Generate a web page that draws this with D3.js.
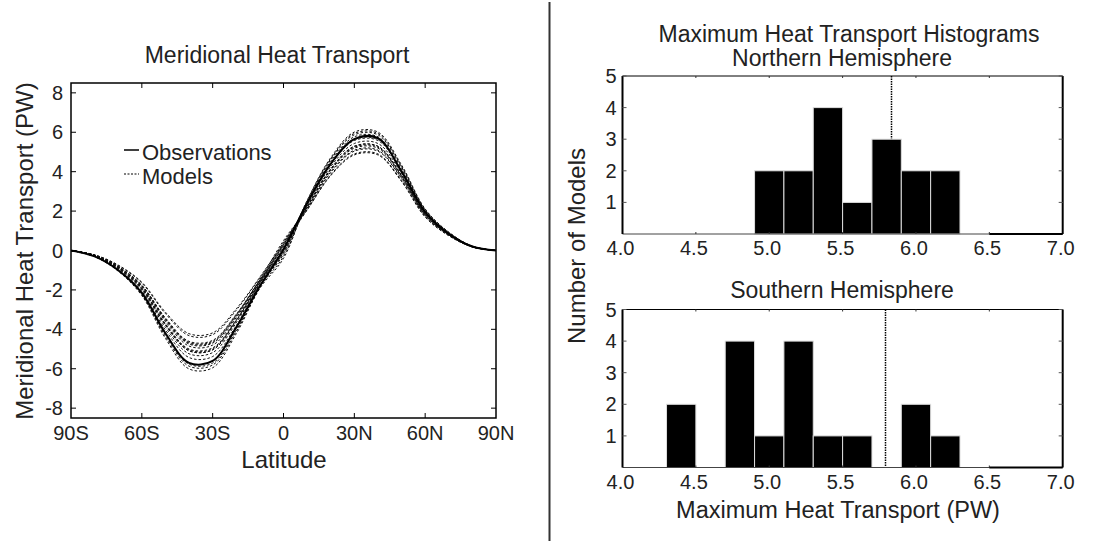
<!DOCTYPE html>
<html>
<head>
<meta charset="utf-8">
<script src="https://cdn.jsdelivr.net/npm/d3@7"></script>
<style>
  body { margin: 0; background: #fff; }
  svg { display: block; font-family: "Liberation Sans", Arial, sans-serif; }
  text { fill: #222; }
</style>
</head>
<body>
<svg id="chart" width="1108" height="541"></svg>
<script>
// latitude grid for the transport curves
const lats = [-90, -80, -70, -60, -50, -40, -30, -20, -10, 0, 10, 20, 30, 40, 50, 60, 70, 80, 90];

const observations = [0, -0.3, -1.0, -2.15, -4.2, -5.7, -5.6, -3.9, -1.8, 0.05, 2.4, 4.4, 5.65, 5.7, 4.0, 1.95, 0.85, 0.2, 0];

const models = [
  [0, -0.22, -0.74, -1.61, -3.13, -4.22, -4.18, -2.96, -1.35, 0.4, 2.23, 4.14, 5.29, 5.29, 3.82, 1.85, 0.82, 0.19, 0],
  [0, -0.22, -0.76, -1.65, -3.2, -4.32, -4.27, -3.03, -1.38, 0.3, 2.05, 3.8, 4.85, 4.85, 3.5, 1.7, 0.75, 0.18, 0],
  [0, -0.24, -0.81, -1.76, -3.42, -4.61, -4.56, -3.23, -1.47, 0.5, 2.13, 3.95, 5.04, 5.04, 3.64, 1.77, 0.78, 0.18, 0],
  [0, -0.24, -0.82, -1.78, -3.46, -4.66, -4.61, -3.26, -1.49, 0.2, 2.4, 4.45, 5.67, 5.67, 4.1, 1.99, 0.88, 0.2, 0],
  [0, -0.24, -0.82, -1.79, -3.49, -4.7, -4.66, -3.3, -1.5, 0.3, 2.19, 4.07, 5.19, 5.19, 3.75, 1.82, 0.8, 0.19, 0],
  [0, -0.25, -0.83, -1.81, -3.53, -4.75, -4.7, -3.33, -1.52, 0.1, 2.48, 4.6, 5.87, 5.87, 4.24, 2.06, 0.91, 0.21, 0],
  [0, -0.25, -0.85, -1.85, -3.6, -4.85, -4.8, -3.4, -1.55, 0.2, 2.21, 4.1, 5.24, 5.24, 3.78, 1.84, 0.81, 0.19, 0],
  [0, -0.26, -0.88, -1.91, -3.71, -5.0, -4.94, -3.5, -1.6, 0.0, 2.36, 4.37, 5.58, 5.58, 4.03, 1.96, 0.86, 0.2, 0],
  [0, -0.26, -0.88, -1.92, -3.74, -5.04, -4.99, -3.54, -1.61, 0.4, 2.07, 3.84, 4.9, 4.9, 3.54, 1.72, 0.76, 0.18, 0],
  [0, -0.26, -0.89, -1.94, -3.78, -5.09, -5.04, -3.57, -1.63, -0.1, 2.54, 4.71, 6.01, 6.01, 4.34, 2.11, 0.93, 0.22, 0],
  [0, -0.26, -0.89, -1.94, -3.78, -5.09, -5.04, -3.57, -1.63, 0.1, 2.3, 4.26, 5.43, 5.43, 3.92, 1.9, 0.84, 0.2, 0],
  [0, -0.27, -0.92, -2.0, -3.89, -5.24, -5.18, -3.67, -1.67, 0.3, 2.15, 3.99, 5.09, 5.09, 3.68, 1.79, 0.79, 0.18, 0],
  [0, -0.28, -0.95, -2.07, -4.03, -5.43, -5.38, -3.81, -1.74, -0.2, 2.44, 4.52, 5.77, 5.77, 4.17, 2.02, 0.89, 0.21, 0],
  [0, -0.3, -1.01, -2.2, -4.28, -5.77, -5.71, -4.05, -1.84, -0.3, 2.38, 4.41, 5.63, 5.63, 4.06, 1.97, 0.87, 0.2, 0],
  [0, -0.3, -1.03, -2.24, -4.36, -5.87, -5.81, -4.11, -1.88, -0.1, 2.23, 4.14, 5.29, 5.29, 3.82, 1.85, 0.82, 0.19, 0],
  [0, -0.31, -1.05, -2.29, -4.46, -6.01, -5.95, -4.22, -1.92, -0.4, 2.51, 4.65, 5.94, 5.94, 4.28, 2.08, 0.92, 0.21, 0]
];

const latTicks = [-90, -60, -30, 0, 30, 60, 90];
const latTickLabels = ["90S", "60S", "30S", "0", "30N", "60N", "90N"];
const transportTicks = [-8, -6, -4, -2, 0, 2, 4, 6, 8];

// histograms of maximum heat transport
const binWidth = 0.2;
const nhBins = [4.9, 5.1, 5.3, 5.5, 5.7, 5.9, 6.1];
const nhCounts = [2, 2, 4, 1, 3, 2, 2];
const shBins = [4.3, 4.5, 4.7, 4.9, 5.1, 5.3, 5.5, 5.7, 5.9, 6.1];
const shCounts = [2, 0, 4, 1, 4, 1, 1, 0, 2, 1];
const nhObserved = 5.83;
const shObserved = 5.79;
const histXTicks = [4.0, 4.5, 5.0, 5.5, 6.0, 6.5, 7.0];
const histYTicks = [1, 2, 3, 4, 5];

const svg = d3.select("#chart");

// ---------- left panel ----------
const L = { left: 71, right: 496, top: 83, bottom: 418 };

const x = d3.scaleLinear().domain([-90, 90]).range([L.left, L.right]);
const y = d3.scaleLinear().domain([-8.5, 8.5]).range([L.bottom, L.top]);

const left = svg.append("g");

const line = d3.line()
  .x((d, i) => x(lats[i]))
  .y(d => y(d))
  .curve(d3.curveCatmullRom.alpha(0.5));

svg.append("clipPath").attr("id", "lclip")
  .append("rect")
  .attr("x", L.left).attr("y", L.top)
  .attr("width", L.right - L.left).attr("height", L.bottom - L.top);

const curves = left.append("g").attr("clip-path", "url(#lclip)");

curves.selectAll("path.model")
  .data(models)
  .enter().append("path")
  .attr("class", "model")
  .attr("d", line)
  .attr("fill", "none")
  .attr("stroke", "#111")
  .attr("stroke-width", 1)
  .attr("stroke-dasharray", "2.5,2");

curves.append("path")
  .datum(observations)
  .attr("d", line)
  .attr("fill", "none")
  .attr("stroke", "#000")
  .attr("stroke-width", 2);

// frame
left.append("rect")
  .attr("x", L.left).attr("y", L.top)
  .attr("width", L.right - L.left).attr("height", L.bottom - L.top)
  .attr("fill", "none").attr("stroke", "#000").attr("stroke-width", 1.5);

const tickLen = 5;
latTicks.forEach((t, i) => {
  if (i > 0 && i < latTicks.length - 1) {
    left.append("line").attr("x1", x(t)).attr("x2", x(t))
      .attr("y1", L.bottom).attr("y2", L.bottom - tickLen).attr("stroke", "#000");
    left.append("line").attr("x1", x(t)).attr("x2", x(t))
      .attr("y1", L.top).attr("y2", L.top + tickLen).attr("stroke", "#000");
  }
  left.append("text")
    .attr("x", x(t)).attr("y", L.bottom + 22)
    .attr("text-anchor", "middle")
    .attr("font-size", "20px")
    .text(latTickLabels[i]);
});

transportTicks.forEach(t => {
  left.append("line").attr("x1", L.left).attr("x2", L.left + tickLen)
    .attr("y1", y(t)).attr("y2", y(t)).attr("stroke", "#000");
  left.append("line").attr("x1", L.right).attr("x2", L.right - tickLen)
    .attr("y1", y(t)).attr("y2", y(t)).attr("stroke", "#000");
  left.append("text")
    .attr("x", L.left - 8).attr("y", y(t) + 7)
    .attr("text-anchor", "end")
    .attr("font-size", "20px")
    .text(t);
});

left.append("text")
  .attr("x", 277).attr("y", 63)
  .attr("text-anchor", "middle").attr("font-size", "23px")
  .text("Meridional Heat Transport");

left.append("text")
  .attr("x", 284).attr("y", 468)
  .attr("text-anchor", "middle").attr("font-size", "24px")
  .text("Latitude");

left.append("text")
  .attr("transform", "translate(33,251) rotate(-90)")
  .attr("text-anchor", "middle").attr("font-size", "24px")
  .text("Meridional Heat Transport (PW)");

// legend
left.append("line").attr("x1", 124).attr("x2", 139).attr("y1", 150).attr("y2", 150)
  .attr("stroke", "#000").attr("stroke-width", 1.5);
left.append("text").attr("x", 142).attr("y", 160).attr("font-size", "22px").text("Observations");
left.append("line").attr("x1", 124).attr("x2", 139).attr("y1", 174).attr("y2", 174)
  .attr("stroke", "#000").attr("stroke-width", 1).attr("stroke-dasharray", "2,1.5");
left.append("text").attr("x", 142).attr("y", 184).attr("font-size", "22px").text("Models");

// divider
svg.append("line").attr("x1", 549.5).attr("x2", 549.5).attr("y1", 2).attr("y2", 541)
  .attr("stroke", "#333").attr("stroke-width", 2);

// ---------- right panels ----------
const H = { left: 622.5, right: 1062.7 };
const hx = d3.scaleLinear().domain([4.0, 7.0]).range([H.left, H.right]);

function histogram(top, bins, counts, observed, title, titleY) {
  const bottom = top + 158;
  const hy = d3.scaleLinear().domain([0, 5]).range([bottom, top]);
  const g = svg.append("g");

  const ox = Math.round(hx(observed)) + 0.5;
  g.append("line")
    .attr("x1", ox).attr("x2", ox)
    .attr("y1", top).attr("y2", bottom)
    .attr("stroke", "#000").attr("stroke-width", 1.5)
    .attr("stroke-dasharray", "1.5,1");

  const data = bins.map((b, i) => ({ start: b, count: counts[i] })).filter(d => d.count > 0);
  g.selectAll("rect.bar")
    .data(data)
    .enter().append("rect")
    .attr("class", "bar")
    .attr("x", d => hx(d.start))
    .attr("y", d => hy(d.count))
    .attr("width", d => hx(d.start + binWidth) - hx(d.start))
    .attr("height", d => hy(0) - hy(d.count))
    .attr("fill", "#000")
    .attr("stroke", "#ddd")
    .attr("stroke-width", 1);

  // frame
  g.append("line").attr("x1", H.left).attr("x2", H.right).attr("y1", top).attr("y2", top)
    .attr("stroke", "#000").attr("stroke-width", 1);
  g.append("line").attr("x1", H.left).attr("x2", H.right).attr("y1", bottom).attr("y2", bottom)
    .attr("stroke", "#444").attr("stroke-width", 1);
  g.append("line").attr("x1", hx(6.5)).attr("x2", H.right).attr("y1", bottom).attr("y2", bottom)
    .attr("stroke", "#000").attr("stroke-width", 2);
  g.append("line").attr("x1", H.left).attr("x2", H.left).attr("y1", top).attr("y2", bottom)
    .attr("stroke", "#000").attr("stroke-width", 2);
  g.append("line").attr("x1", H.right).attr("x2", H.right).attr("y1", top).attr("y2", bottom)
    .attr("stroke", "#000").attr("stroke-width", 2);

  histXTicks.forEach(t => {
    if (t > 4.0 && t < 7.0) {
      g.append("line").attr("x1", hx(t)).attr("x2", hx(t))
        .attr("y1", top).attr("y2", top + 2).attr("stroke", "#333");
      g.append("line").attr("x1", hx(t)).attr("x2", hx(t))
        .attr("y1", bottom).attr("y2", bottom - 2).attr("stroke", "#333");
    }
    g.append("text")
      .attr("x", hx(t) - 2).attr("y", bottom + 21)
      .attr("text-anchor", "middle").attr("font-size", "20px")
      .text(t.toFixed(1));
  });

  histYTicks.forEach(t => {
    g.append("line").attr("x1", H.left).attr("x2", H.left + 4)
      .attr("y1", hy(t)).attr("y2", hy(t)).attr("stroke", "#555");
    g.append("line").attr("x1", H.right).attr("x2", H.right - 4)
      .attr("y1", hy(t)).attr("y2", hy(t)).attr("stroke", "#555");
    g.append("text")
      .attr("x", H.left - 6).attr("y", hy(t) + 7)
      .attr("text-anchor", "end").attr("font-size", "20px")
      .text(t);
  });

  g.append("text")
    .attr("x", 842).attr("y", titleY)
    .attr("text-anchor", "middle").attr("font-size", "23px")
    .text(title);
}

svg.append("text")
  .attr("x", 849).attr("y", 42)
  .attr("text-anchor", "middle").attr("font-size", "23px")
  .text("Maximum Heat Transport Histograms");

histogram(76, nhBins, nhCounts, nhObserved, "Northern Hemisphere", 66);
histogram(309.5, shBins, shCounts, shObserved, "Southern Hemisphere", 298);

svg.append("text")
  .attr("x", 838).attr("y", 518)
  .attr("text-anchor", "middle").attr("font-size", "23.5px")
  .text("Maximum Heat Transport (PW)");

svg.append("text")
  .attr("transform", "translate(585,246) rotate(-90)")
  .attr("text-anchor", "middle").attr("font-size", "24px")
  .text("Number of Models");
</script>
</body>
</html>
